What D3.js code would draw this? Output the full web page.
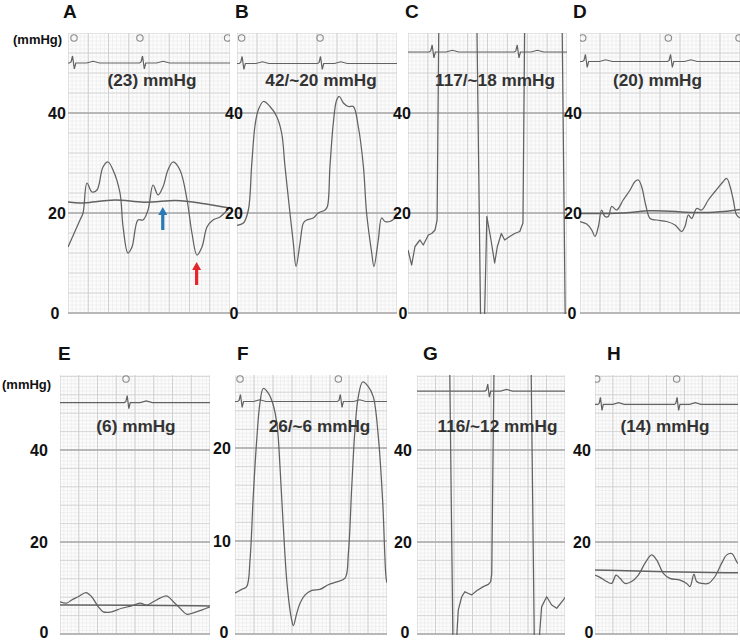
<!DOCTYPE html>
<html>
<head>
<meta charset="utf-8">
<script src="https://cdn.jsdelivr.net/npm/d3@7"></script>
<style>
  body { margin: 0; background: #fff; }
  svg { font-family: "Liberation Sans", Arial, sans-serif; font-weight: bold; }
</style>
</head>
<body>
<svg id="chart" width="740" height="641"></svg>
<script>
// pressure traces: [time (% of strip), mmHg]
const traceA = [[0,13.2],[7.4,18.6],[9.3,20],[11.7,26],[14.8,24.2],[17.9,24.6],[21.6,29.2],[24.7,30.2],[27.8,28.6],[32.1,24],[34,17.2],[37,12],[39.5,13.2],[43.2,18.6],[46.3,18.6],[49.4,20.6],[52.5,25.6],[55.6,23.6],[58.6,25.2],[61.7,28.6],[64.8,30.2],[69.1,28.6],[73.5,22.6],[76.5,16],[79.6,11.6],[82.7,13.2],[85.8,17.2],[89.5,18.6],[93.8,19.2],[100,21.2]];
const meanA = [[0,22.2],[9.3,21.8],[30,23],[46,21.8],[67,22.8],[81,22],[100,21]];
const traceB = [[0,17.5],[4,18],[7.1,20.6],[9.2,29.7],[11.3,37.6],[13.3,40.6],[16.5,42.3],[20.6,41.3],[24.8,39.3],[27.9,36],[30,29.3],[33.1,20],[35.2,14],[36.9,9.3],[39.4,14],[41.5,18],[43.5,18.6],[47.7,19],[50.8,20],[55,20.6],[56.5,21.3],[58.1,29.3],[60.2,38],[62.3,42.6],[64,43.3],[66.5,42],[69.6,41.3],[72.7,41.3],[75.8,37.3],[79,29.3],[81,20],[84.2,12],[85.6,9.3],[88.3,14.6],[90.4,19],[92.5,18.3],[95.6,18.3],[100,19.3]];
const traceC = [[0,12.6],[2.3,9.6],[4.4,13.3],[7.5,14.6],[9.6,13.6],[12.8,15.6],[14.9,15.9],[17,16.6],[18.3,18.6],[21,117],[41,117],[46,-10],[47.5,-10],[49.6,19.3],[52.2,14.6],[54.5,10],[56.2,13.3],[58.7,15.9],[60.8,14.6],[64,15.3],[67.1,15.9],[70.3,16.3],[72.3,18],[75,117],[95,117],[99,-5],[100,-5]];
const traceD = [[0,18.3],[4.2,17.8],[7.3,16.6],[9.4,15.3],[11.5,17.3],[13.5,20.6],[15.6,19.3],[17.7,19.3],[19.8,21.3],[22.9,20.6],[27,22.6],[31.3,24.6],[34.4,26.3],[36.5,26.6],[38.5,25.3],[41.3,21.3],[43.8,18.9],[47.9,18.6],[54.2,18.3],[59.4,17.6],[63.5,16.3],[65.6,17.3],[67.7,19.6],[69.8,18.9],[72.9,20.9],[76,20.6],[80.2,22.6],[84.4,24.3],[88.5,25.9],[91.7,26.9],[93.8,25.3],[95.8,22.6],[97.9,19.6],[100,19]];
const meanD = [[0,19.9],[30,19.9],[42,20.6],[60,20.3],[80,19.9],[100,20.7]];
const traceE = [[0,7.0],[4.4,6.7],[7.8,7.4],[12.2,8.1],[17.3,9.0],[21.1,8.1],[25.6,5.9],[28.9,4.8],[34.4,4.8],[41.1,5.6],[47.8,6.1],[53.3,6.7],[57.8,6.3],[62.2,7.0],[66.7,7.8],[71.1,8.3],[75.6,7.0],[80,5.6],[84.4,4.3],[88.9,4.6],[94.4,5.2],[100,5.9]];
const meanE = [[0,6.3],[50,6.3],[100,6.1]];
const traceF = [[0,4.4],[4.4,4.8],[7.7,5.1],[9.9,8.0],[12,14.8],[14.3,20.9],[16.4,24.8],[18.6,26.4],[21.9,25.9],[25.2,24.6],[27.8,22.3],[29.6,18],[31.8,11.5],[34.4,5.1],[37.3,1.5],[38.4,0.9],[40.6,2.2],[42.8,3.3],[46.1,4.2],[50.5,4.7],[55.9,4.8],[61.4,5.3],[66.9,5.6],[72.4,6.0],[74.6,8.7],[76.8,15.8],[78.9,21.9],[81.1,25.5],[84,27.1],[87.7,26.6],[91,25.5],[94.3,21.2],[97.2,14.1],[99.3,6.2],[100,5.5]];
const traceG = [[0,116],[20,116],[24.5,-8],[25.5,-8],[27.9,5.2],[30.2,8.1],[32.4,9.2],[34.7,8.8],[37,8.5],[40.3,9.4],[44.8,10.3],[48.2,10.8],[49.8,11.4],[50.5,13],[54,116],[75,116],[79.5,-8],[81,-8],[84.2,5.9],[87.6,8.1],[91,6.3],[94.4,5.6],[98.9,7.4],[100,8]];
const traceH = [[0,12.8],[4.7,12.1],[8.2,11.4],[11.7,11.0],[14.7,12.8],[17.5,12.1],[21,11.0],[25.6,11.4],[30.3,12.8],[35,15.4],[39.6,17.2],[43.1,16.1],[47.8,13.2],[52.4,12.1],[59.4,11.7],[64.1,11.0],[66.4,10.3],[69.2,13.0],[71.1,11.4],[74.6,11.0],[79.3,11.0],[83.9,12.5],[88.6,15.4],[92.1,17.2],[95.6,17.5],[99.1,15.7],[100,15.3]];
const meanH = [[0,13.9],[50,13.5],[100,13.3]];

// ECG beats (% of strip) and trigger circles
const beatsA = [2.5, 45.7], ringsA = [3.7, 44.4, 98.5];
const beatsB = [2.9, 51.9], ringsB = [2.9, 51.9];
const beatsC = [14.9, 68.4], ringsC = [];
const beatsD = [3.1, 56.3], ringsD = [1.7, 55.2, 99.4];
const beatsE = [44.5],      ringsE = [44];
const beatsF = [3.3, 69],   ringsF = [3.3, 68];
const beatsG = [47.5],      ringsG = [];
const beatsH = [3.5, 57.1], ringsH = [1.2, 57.1];
// ECG level on each strip, in the strip's mmHg units
const ecgLevel = [50, 49.9, 52.2, 50.3, 50.3, 25, 52.8, 49.9];
// one QRS + T complex: [dt, mV]
const qrsShape = [[-1.6,0],[-0.6,0.15],[0.3,1],[1.4,-0.85],[2.3,0],[9,0],[13,0.25],[17,0]];

const letters = ["A","B","C","D","E","F","G","H"];
const notes = ["(23) mmHg","42/~20 mmHg","117/~18 mmHg","(20) mmHg","(6) mmHg","26/~6 mmHg","116/~12 mmHg","(14) mmHg"];
const ticks40 = [0, 20, 40];
const ticks20 = [0, 10, 20];
const arrowBlueA = [58.5, 21.2];
const arrowRedA = [79.4, 10.2];

// layout
const rowTop = {yb: 313, yt: 33, letterY: 18, noteY: 86, ringY: 38, unitY: 44, unitX: 13};
const rowBot = {yb: 634, yt: 375, letterY: 360, noteY: 432, ringY: 379, unitY: 389, unitX: 2};
const panels = [
  {row: rowTop, x0: 68,  x1: 230, max: 56,    ticks: ticks40, lx: 57,  zx: 55,  ltx: 63,  ndx: 3,    trace: traceA, mean: meanA, beats: beatsA, rings: ringsA, curve: "smooth"},
  {row: rowTop, x0: 237, x1: 397, max: 56,    ticks: ticks40, lx: 234, zx: 234, ltx: 235, ndx: 4,    trace: traceB, beats: beatsB, rings: ringsB, curve: "smooth"},
  {row: rowTop, x0: 408, x1: 567, max: 56,    ticks: ticks40, lx: 402, zx: 403, ltx: 405, ndx: 7.5,  trace: traceC, beats: beatsC, rings: ringsC, curve: "linear"},
  {row: rowTop, x0: 580, x1: 740, max: 56,    ticks: ticks40, lx: 573, zx: 572, ltx: 573, ndx: -2.5, trace: traceD, mean: meanD, beats: beatsD, rings: ringsD, curve: "smooth"},
  {row: rowBot, x0: 60,  x1: 210, max: 56.3,  ticks: ticks40, lx: 39,  zx: 44,  ltx: 58,  ndx: 1,    trace: traceE, mean: meanE, beats: beatsE, rings: ringsE, curve: "smooth"},
  {row: rowBot, x0: 235, x1: 387, max: 27.85, ticks: ticks20, lx: 222, zx: 224, ltx: 237, ndx: 8.5,  trace: traceF, beats: beatsF, rings: ringsF, curve: "smooth"},
  {row: rowBot, x0: 417, x1: 565, max: 56.3,  ticks: ticks40, lx: 403, zx: 405, ltx: 423, ndx: 6.5,  trace: traceG, beats: beatsG, rings: ringsG, curve: "linear"},
  {row: rowBot, x0: 595, x1: 738, max: 56.3,  ticks: ticks40, lx: 582, zx: 589, ltx: 607, ndx: -1.5, trace: traceH, mean: meanH, beats: beatsH, rings: ringsH, curve: "smooth"}
];

const svg = d3.select("#chart");
const defs = svg.append("defs");
const lineCol = "#626262";

panels.forEach((p, i) => {
  const x = d3.scaleLinear().domain([0, 100]).range([p.x0, p.x1]);
  const y = d3.scaleLinear().domain([0, p.max]).range([p.row.yb, p.row.yt]);
  const major = p.ticks[1];            // 20 or 10 mmHg
  const medium = major / 5;
  const fine = medium / 5;

  const clipId = "clip" + i;
  defs.append("clipPath").attr("id", clipId)
    .append("rect").attr("x", p.x0).attr("y", p.row.yt)
    .attr("width", p.x1 - p.x0).attr("height", p.row.yb - p.row.yt + 1);

  const g = svg.append("g");
  const grid = g.append("g").attr("clip-path", `url(#${clipId})`);
  grid.append("rect").attr("x", p.x0).attr("y", p.row.yt)
    .attr("width", p.x1 - p.x0).attr("height", p.row.yb - p.row.yt).attr("fill", "#fcfcfc");

  // graph-paper grid
  const hFine = d3.range(0, p.max + 0.001, fine);
  const vFine = d3.range(0, 100.01, 2.5);
  grid.selectAll(".hf").data(hFine).join("line")
    .attr("x1", p.x0).attr("x2", p.x1).attr("y1", d => y(d)).attr("y2", d => y(d))
    .attr("stroke", "#ebebeb").attr("stroke-width", 0.7);
  grid.selectAll(".vf").data(vFine).join("line")
    .attr("y1", p.row.yt).attr("y2", p.row.yb).attr("x1", d => x(d)).attr("x2", d => x(d))
    .attr("stroke", "#ebebeb").attr("stroke-width", 0.7);
  grid.selectAll(".hm").data(d3.range(0, p.max + 0.001, medium)).join("line")
    .attr("x1", p.x0).attr("x2", p.x1).attr("y1", d => y(d)).attr("y2", d => y(d))
    .attr("stroke", "#d4d4d4").attr("stroke-width", 0.9);
  grid.selectAll(".vm").data(d3.range(0, 100.01, 12.5)).join("line")
    .attr("y1", p.row.yt).attr("y2", p.row.yb).attr("x1", d => x(d)).attr("x2", d => x(d))
    .attr("stroke", "#d0d0d0").attr("stroke-width", 1);
  grid.selectAll(".hM").data(p.ticks).join("line")
    .attr("x1", p.x0).attr("x2", p.x1).attr("y1", d => y(d)).attr("y2", d => y(d))
    .attr("stroke", "#a9a9a9").attr("stroke-width", 1.4);

  // ECG strip along the top
  const ecg = [[0, 0]];
  p.beats.forEach(b => qrsShape.forEach(q => ecg.push([b + q[0], q[1]])));
  ecg.push([100, 0]);
  ecg.sort((a, b) => a[0] - b[0]);
  const ecgY = y(ecgLevel[i]);
  grid.append("path").datum(ecg.filter(d => d[0] >= 0 && d[0] <= 100))
    .attr("fill", "none").attr("stroke", lineCol).attr("stroke-width", 1.2)
    .attr("d", d3.line().x(d => x(d[0])).y(d => ecgY - d[1] * 7));

  grid.selectAll(".ring").data(p.rings).join("circle")
    .attr("cx", d => x(d)).attr("cy", p.row.ringY).attr("r", 3.2)
    .attr("fill", "none").attr("stroke", "#8a8a8a").attr("stroke-width", 1.1);

  // mean (flat) pressure line
  if (p.mean) {
    grid.append("path").datum(p.mean)
      .attr("fill", "none").attr("stroke", lineCol).attr("stroke-width", 1.5)
      .attr("d", d3.line().curve(d3.curveBasis).x(d => x(d[0])).y(d => y(d[1])));
  }
  // pressure trace
  const curve = p.curve === "smooth" ? d3.curveCatmullRom.alpha(0.5) : d3.curveLinear;
  grid.append("path").datum(p.trace)
    .attr("fill", "none").attr("stroke", lineCol).attr("stroke-width", 1.25)
    .attr("stroke-linejoin", "round")
    .attr("d", d3.line().curve(curve).x(d => x(d[0])).y(d => y(d[1])));

  // tick labels
  g.selectAll(".tl").data(p.ticks).join("text")
    .attr("x", d => d === 0 ? p.zx : p.lx).attr("y", d => y(d))
    .attr("dy", d => (d === 0 && p.row === rowBot) ? "0.28em" : "0.36em")
    .attr("text-anchor", "middle").attr("font-size", 16).attr("fill", "#111")
    .text(d => d);

  // panel letter and pressure note
  g.append("text").attr("x", p.ltx).attr("y", p.row.letterY)
    .attr("font-size", 19).attr("fill", "#111").text(letters[i]);
  g.append("text").attr("x", (p.x0 + p.x1) / 2 + p.ndx).attr("y", p.row.noteY)
    .attr("text-anchor", "middle").attr("font-size", 17.2).attr("fill", "#333")
    .text(notes[i]);

  if (i === 0 || i === 4) {
    g.append("text").attr("x", p.row.unitX).attr("y", p.row.unitY)
      .attr("font-size", 13).attr("fill", "#111").text("(mmHg)");
  }

  // arrows in panel A
  if (i === 0) {
    [[arrowBlueA, "#2a78b6"], [arrowRedA, "#e3262b"]].forEach(([a, col]) => {
      const ax = x(a[0]), ay = y(a[1]);
      const len = 23, hw = 4.5, hl = 8, sw = 1.6;
      g.append("path")
        .attr("d", `M${ax},${ay} L${ax + hw},${ay + hl} L${ax + sw},${ay + hl} L${ax + sw},${ay + len} L${ax - sw},${ay + len} L${ax - sw},${ay + hl} L${ax - hw},${ay + hl} Z`)
        .attr("fill", col);
    });
  }
});
</script>
</body>
</html>
